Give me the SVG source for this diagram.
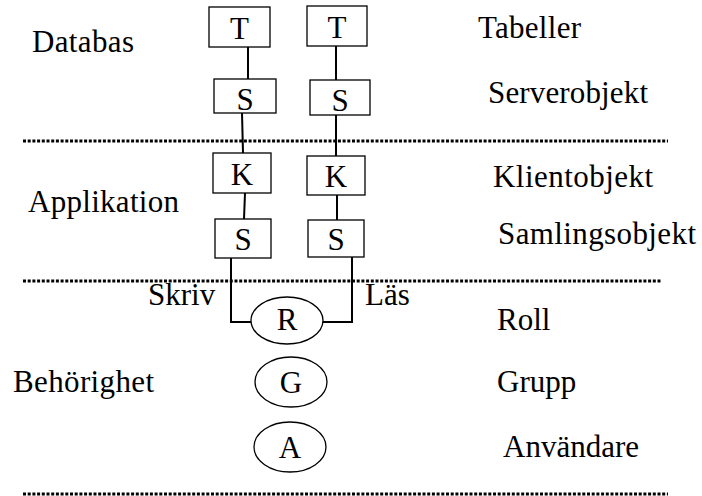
<svg xmlns="http://www.w3.org/2000/svg" width="702" height="496" viewBox="0 0 702 496">
<style>
text{font-family:'Liberation Serif','Times New Roman',Times,'DejaVu Serif',serif;font-size:31px;fill:#000}
.c{text-anchor:middle}
.box{fill:#fff;stroke:#000;stroke-width:1.3}
.ell{fill:#fff;stroke:#000;stroke-width:1.3}
.ln{stroke:#000;stroke-width:2;fill:none}
.dot{stroke:#000;stroke-width:3;stroke-dasharray:3 1.7;fill:none}
</style>
<rect width="702" height="496" fill="#fff"/>
<g id="separators">
<line class="dot" x1="23" y1="141" x2="668" y2="141"/>
<line class="dot" x1="23" y1="281" x2="662" y2="281"/>
<line class="dot" x1="23" y1="494" x2="668" y2="494"/>
</g>
<g id="connectors">
<line class="ln" x1="248" y1="47" x2="248" y2="79"/>
<line class="ln" x1="336" y1="46" x2="336" y2="80"/>
<line class="ln" x1="242" y1="113" x2="243" y2="153"/>
<line class="ln" x1="336" y1="115" x2="336" y2="156"/>
<line class="ln" x1="245" y1="193" x2="244" y2="219"/>
<line class="ln" x1="337" y1="195" x2="337" y2="220"/>
<polyline class="ln" points="231,258 231,322 251,322"/>
<polyline class="ln" points="352,257 352,322 323,322"/>
</g>
<g id="labels">
<text x="32" y="52" textLength="102" font-family="Liberation Serif, serif">Databas</text>
<text x="28" y="212" textLength="151">Applikation</text>
<text x="13" y="392" textLength="141">Behörighet</text>
<text x="478" y="38" textLength="103">Tabeller</text>
<text x="488" y="103" textLength="160">Serverobjekt</text>
<text x="493" y="187" textLength="160">Klientobjekt</text>
<text x="498" y="244" textLength="198">Samlingsobjekt</text>
<text x="497" y="330">Roll</text>
<text x="497" y="392">Grupp</text>
<text x="503" y="457">Användare</text>
<text x="148" y="305">Skriv</text>
<text x="365" y="305">Läs</text>
</g>
<g id="T1"><rect class="box" x="209" y="7" width="61" height="40"/><text class="c" x="239.5" y="39">T</text></g>
<g id="T2"><rect class="box" x="307" y="6" width="60" height="40"/><text class="c" x="337" y="38">T</text></g>
<g id="S1"><rect class="box" x="214" y="79" width="62" height="34"/><text class="c" x="245" y="110">S</text></g>
<g id="S2"><rect class="box" x="310" y="80" width="60" height="35"/><text class="c" x="340" y="111">S</text></g>
<g id="K1"><rect class="box" x="213" y="153" width="58" height="40"/><text class="c" x="242" y="185">K</text></g>
<g id="K2"><rect class="box" x="307" y="156" width="58" height="39"/><text class="c" x="336" y="187">K</text></g>
<g id="S3"><rect class="box" x="215" y="219" width="56" height="39"/><text class="c" x="243" y="250">S</text></g>
<g id="S4"><rect class="box" x="308" y="220" width="56" height="37"/><text class="c" x="336" y="250">S</text></g>
<g id="R"><ellipse class="ell" cx="287" cy="320.5" rx="36" ry="23.5"/><text class="c" x="287" y="330">R</text></g>
<g id="G"><ellipse class="ell" cx="291" cy="382" rx="36" ry="25"/><text class="c" x="291" y="393">G</text></g>
<g id="A"><ellipse class="ell" cx="290" cy="447" rx="36" ry="25"/><text class="c" x="290" y="458">A</text></g>
</svg>
